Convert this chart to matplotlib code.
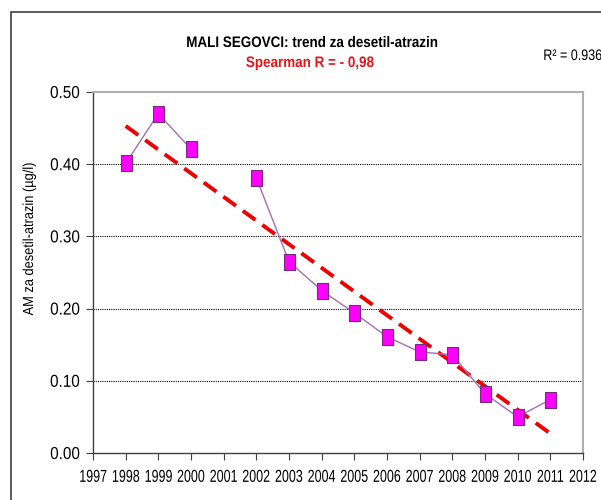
import matplotlib
matplotlib.use("Agg")
import matplotlib.pyplot as plt
from matplotlib.patches import Rectangle
from matplotlib.patheffects import AbstractPathEffect
from matplotlib.transforms import Affine2D
from matplotlib.ticker import FormatStrFormatter

years_a = [1998, 1999, 2000]
vals_a = [0.401, 0.470, 0.421]
years_b = [2002, 2003, 2004, 2005, 2006, 2007, 2008, 2009, 2010, 2011]
vals_b = [0.381, 0.265, 0.225, 0.194, 0.161, 0.140, 0.136, 0.082, 0.050, 0.074]

# linear trend (Excel trendline) endpoints
trend_years = [1998, 2011]
trend_vals = [0.453, 0.027]

xticks = list(range(1997, 2013))
yticks = [0.0, 0.1, 0.2, 0.3, 0.4, 0.5]

title1 = "MALI SEGOVCI: trend za desetil-atrazin"
title2 = "Spearman R = - 0,98"
r2_text = "R² = 0.9364"
ylabel = "AM za desetil-atrazin (µg/l)"


# the original chart text looks horizontally squeezed, rescale it around its centre
class Squeeze(AbstractPathEffect):
    def __init__(self, sx, sy=1.0):
        super().__init__()
        self.sx = sx
        self.sy = sy

    def draw_path(self, renderer, gc, tpath, affine, rgbFace=None):
        ext = tpath.get_extents()
        cx = (ext.x0 + ext.x1) / 2
        cy = (ext.y0 + ext.y1) / 2
        t = Affine2D().translate(-cx, -cy).scale(self.sx, self.sy).translate(cx, cy) + affine
        renderer.draw_path(gc, tpath, t, rgbFace)


plt.rcParams['font.family'] = ['Liberation Sans', 'DejaVu Sans']

W, H = 601, 500
fig = plt.figure(figsize=(W / 100, H / 100), dpi=100)

# outer chart frame (cut on right and bottom)
fig.patches.append(Rectangle((11 / W, -0.1), 1.2, 1 - 12 / H + 0.1,
                             transform=fig.transFigure, fill=False,
                             edgecolor='#404040', linewidth=1.2))

ax = fig.add_axes([93 / W, 1 - 453 / H, (583 - 93) / W, (453 - 92) / H])

for y in yticks[1:-1]:
    ax.axhline(y, color='black', linestyle=(0, (1, 1)), linewidth=0.8, zorder=1)

box = [(-0.36, -0.5), (0.36, -0.5), (0.36, 0.5), (-0.36, 0.5), (-0.36, -0.5)]
mk = dict(marker=box, markersize=11, markerfacecolor='#ff00ff',
          markeredgecolor='#7a2a7a', markeredgewidth=0.8,
          color='#a070b0', linewidth=1.0, zorder=3)
ax.plot(years_a, vals_a, **mk)
ax.plot(years_b, vals_b, **mk)

ax.plot(trend_years, trend_vals, color='#ee0000', linestyle=(0, (4, 2.2)),
        linewidth=2.8, zorder=2)

ax.set_xlim(1997, 2012)
ax.set_ylim(0, 0.5)
ax.set_xticks(xticks)
ax.set_yticks(yticks)
ax.yaxis.set_major_formatter(FormatStrFormatter('%.2f'))
ax.tick_params(axis='both', direction='out', length=5, color='#404040',
               labelcolor='black')
ax.tick_params(axis='x', labelsize=10, pad=7)
ax.tick_params(axis='y', labelsize=12.5, pad=3)
for lab in ax.get_xticklabels():
    lab.set_path_effects([Squeeze(0.9, 1.25)])
for lab in ax.get_yticklabels():
    lab.set_path_effects([Squeeze(0.88)])

for s in ['top', 'right']:
    ax.spines[s].set_color('#b0b0b0')
    ax.spines[s].set_linewidth(1.5)
for s in ['left', 'bottom']:
    ax.spines[s].set_color('#404040')
    ax.spines[s].set_linewidth(1.0)

fig.text(29 / W, 1 - 238 / H, ylabel, rotation=90, ha='center', va='center',
         fontsize=10.5, path_effects=[Squeeze(0.88)])

fig.text(312 / W, 1 - 43 / H, title1, ha='center', va='center',
         fontsize=11, fontweight='bold', path_effects=[Squeeze(0.88)])
fig.text(310 / W, 1 - 63 / H, title2, ha='center', va='center',
         fontsize=11, fontweight='bold', color='#e8141c',
         path_effects=[Squeeze(0.88)])
# cut off at the right edge, as in the original
fig.text(536 / W, 1 - 56 / H, r2_text, ha='left', va='center', fontsize=11,
         path_effects=[Squeeze(0.82)])

fig.savefig("out.png", dpi=100)
